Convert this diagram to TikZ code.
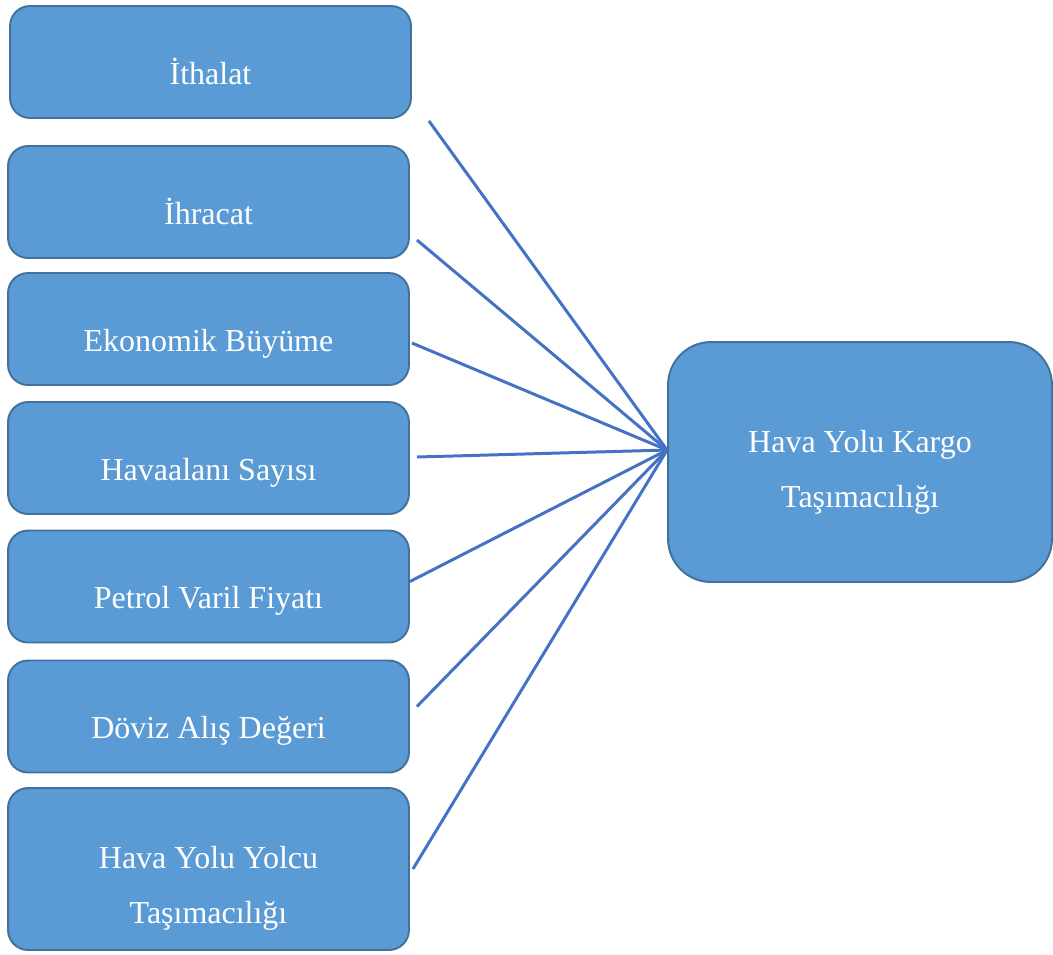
\documentclass[tikz,border=0pt]{standalone}
\usepackage{fontspec}
\setmainfont{Liberation Serif}
\definecolor{boxfill}{HTML}{5B9BD5}
\definecolor{boxdraw}{HTML}{41719C}
\definecolor{linkblue}{HTML}{4472C4}

\begin{document}
\begin{tikzpicture}[x=0.02cm, y=-0.02cm,
    factor/.style={rectangle, rounded corners=0.4cm, draw=boxdraw, fill=boxfill,
        line width=1.1pt, text=white, font=\fontsize{18.2}{31.3}\selectfont,
        minimum width=8.02cm, minimum height=2.24cm, inner sep=0pt, align=center,
        text height=0.88cm, text depth=0cm},
    link/.style={draw=linkblue, line width=1.7pt}]
    \useasboundingbox (0,0) rectangle (1053,954);

    % Faktoerler
    \node [factor] (ithalat) at (210.5,62) {İthalat};
    \node [factor] (ihracat) at (208.5,202) {İhracat};
    \node [factor] (ekonomik) at (208.5,329) {Ekonomik Büyüme};
    \node [factor] (havaalani) at (208.5,458) {Havaalanı Sayısı};
    \node [factor] (petrol) at (208.5,586.5) {Petrol Varil Fiyatı};
    \node [factor] (doviz) at (208.5,716.5) {Döviz Alış Değeri};
    \node [factor, minimum height=3.24cm, text height=2.16cm] (yolcu) at (208.5,869)
        {Hava Yolu Yolcu\\Taşımacılığı};

    % Hedef
    \node [factor, rounded corners=0.86cm, minimum width=7.68cm, minimum height=4.8cm,
        text height=1.8cm] (kargo) at (860,462) {Hava Yolu Kargo\\Taşımacılığı};
    \coordinate (hub) at ([yshift=0.24cm]kargo.west);

    % Baglantilar
    \draw [link] ([xshift=0.34cm, yshift=-0.04cm]ithalat.south east) -- (hub);
    \draw [link] ([xshift=0.14cm, yshift=-0.76cm]ihracat.east) -- (hub);
    \draw [link] ([xshift=0.04cm, yshift=-0.28cm]ekonomik.east) -- (hub);
    \draw [link] ([xshift=0.14cm, yshift=0.02cm]havaalani.east) -- (hub);
    \draw [link] ([yshift=0.1cm]petrol.east) -- (hub);
    \draw [link] ([xshift=0.14cm, yshift=0.2cm]doviz.east) -- (hub);
    \draw [link] ([xshift=0.06cm]yolcu.east) -- (hub);
\end{tikzpicture}
\end{document}
